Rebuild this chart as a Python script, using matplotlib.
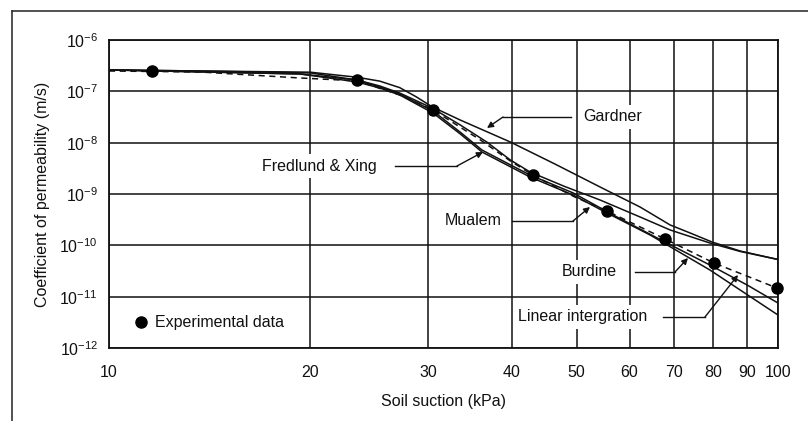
import matplotlib
matplotlib.use("Agg")
import matplotlib.pyplot as plt
from matplotlib.lines import Line2D
from matplotlib.ticker import FixedLocator, LogFormatterSciNotation, NullLocator

plt.rcParams['font.family'] = ['Liberation Sans', 'DejaVu Sans']
plt.rcParams['mathtext.default'] = 'regular'

# ---------------- data ----------------
x_ticks = [10, 20, 30, 40, 50, 60, 70, 80, 90, 100]
y_ticks = [1e-12, 1e-11, 1e-10, 1e-9, 1e-8, 1e-7, 1e-6]

exp_suction = [11.6, 23.5, 30.5, 43.0, 55.5, 67.8, 80.2, 99.5]
exp_k = [2.5e-7, 1.66e-7, 4.3e-8, 2.34e-9, 4.67e-10, 1.33e-10, 4.53e-11, 1.48e-11]

gardner_s = [10, 13.7, 20.0, 23.5, 25.4, 27.2, 28.8, 30.4, 33.5, 39.8, 46.4, 54.2, 62.2, 69.0, 73.9, 79.7, 87.8, 100]
gardner_k = [2.61e-7, 2.49e-7, 2.36e-7, 1.88e-7, 1.58e-7, 1.18e-7, 7.8e-8, 5.0e-8, 2.76e-8, 1.03e-8,
             3.84e-9, 1.37e-9, 5.58e-10, 2.49e-10, 1.74e-10, 1.16e-10, 7.75e-11, 5.3e-11]

fx_s = [10, 13.7, 20.0, 23.5, 25.4, 27.2, 30.4, 33.5, 36.7, 39.8, 42.6, 48.0, 54.2, 62.2, 69.0, 79.1, 87.8, 100]
fx_k = [2.61e-7, 2.49e-7, 2.28e-7, 1.66e-7, 1.27e-7, 9.27e-8, 4.73e-8, 2.21e-8, 1.03e-8,
        4.6e-9, 2.68e-9, 1.4e-9, 7.64e-10, 3.57e-10, 1.99e-10, 1.11e-10, 7.6e-11, 5.3e-11]

mualem_s = [10, 13.7, 19.3, 23.5, 27.2, 30.5, 33.5, 35.9, 39.8, 43.0, 49.7, 55.5, 67.8, 80.2, 100]
mualem_k = [2.49e-7, 2.38e-7, 1.82e-7, 1.6e-7, 8.49e-8, 4.33e-8, 2.0e-8, 1.13e-8, 4.4e-9, 2.34e-9,
            8.74e-10, 4.67e-10, 1.33e-10, 4.53e-11, 1.45e-11]

linear_s = [10, 19.3, 23.5, 25.4, 27.2, 30.5, 33.5, 36.1, 39.8, 42.6, 49.4, 56.7, 68.2, 79.1, 89.9, 100]
linear_k = [2.61e-7, 2.18e-7, 1.66e-7, 1.21e-7, 8.87e-8, 4.14e-8, 1.6e-8, 7.19e-9, 3.7e-9, 2.34e-9,
            1.05e-9, 3.9e-10, 1.11e-10, 4.14e-11, 1.69e-11, 7.52e-12]

burdine_s = [10, 19.3, 23.5, 25.4, 27.2, 30.5, 33.5, 36.1, 39.8, 42.6, 49.4, 55.5, 64.4, 79.1, 100]
burdine_k = [2.61e-7, 2.18e-7, 1.52e-7, 1.16e-7, 8.49e-8, 3.78e-8, 1.48e-8, 6.58e-9, 3.4e-9, 2.14e-9,
             9.55e-10, 4.27e-10, 1.59e-10, 3.31e-11, 4.39e-12]

# ---------------- figure ----------------
W, H = 808, 421
fig = plt.figure(figsize=(W / 100, H / 100), dpi=100)
ax = fig.add_axes([109 / W, (H - 348) / H, 669 / W, 308 / H])

# outer frame (top and left edge of the scanned box)
fig.add_artist(Line2D([12 / W, 1.0], [1 - 11 / H, 1 - 11 / H], color='#222222', lw=1.1,
                      transform=fig.transFigure))
fig.add_artist(Line2D([12 / W, 12 / W], [0.0, 1 - 11 / H], color='#222222', lw=1.1,
                      transform=fig.transFigure))

ax.set_xscale('log')
ax.set_yscale('log')
ax.set_xlim(10, 100)
ax.set_ylim(1e-12, 1e-6)

ax.xaxis.set_major_locator(FixedLocator(x_ticks))
ax.xaxis.set_minor_locator(NullLocator())
ax.set_xticklabels([str(v) for v in x_ticks])
ax.yaxis.set_major_locator(FixedLocator(y_ticks))
ax.yaxis.set_minor_locator(NullLocator())
ax.yaxis.set_major_formatter(LogFormatterSciNotation())

ax.tick_params(axis='both', which='both', length=0, labelsize=11.5, colors='#111111')
ax.tick_params(axis='x', pad=12)
ax.tick_params(axis='y', pad=8)

ax.grid(True, which='major', color='#111111', lw=1.1)
ax.set_axisbelow(True)
for sp in ax.spines.values():
    sp.set_linewidth(1.3)
    sp.set_color('#111111')

lc = '#111111'
lw = 1.1
ax.plot(gardner_s, gardner_k, color=lc, lw=lw, zorder=3)
ax.plot(fx_s, fx_k, color=lc, lw=lw, zorder=3)
ax.plot(linear_s, linear_k, color=lc, lw=lw, zorder=3)
ax.plot(burdine_s, burdine_k, color=lc, lw=lw, zorder=3)
ax.plot(mualem_s, mualem_k, color=lc, lw=lw, ls=(0, (4, 3)), zorder=3)
ax.plot(exp_suction, exp_k, 'o', color='black', ms=8, zorder=4, clip_on=False)

ax.set_xlabel('Soil suction (kPa)', fontsize=11.5, labelpad=10, color='#111111')
ax.set_ylabel('Coefficient of permeability (m/s)', fontsize=11.5, labelpad=7, color='#111111')

# ---------------- labels with leader lines (pixel positions converted) ----------------
def px(xp, yp):
    """pixel position of the picture -> data coordinates"""
    xd = 10 ** (1 + (xp - 109) / 669)
    yd = 10 ** (-6 - (yp - 40) / (308 / 6))
    return xd, yd

box = dict(facecolor='white', edgecolor='none', pad=3)
labels = [
    # text, text left x, text y, leader start x, elbow x, tip x, tip y
    ('Gardner', 583, 117, 571, 503, 487, 128),
    ('Fredlund & Xing', 262, 166, 395, 457, 483, 152),
    ('Mualem', 445, 221, 512, 573, 590, 207),
    ('Burdine', 562, 272, 635, 675, 688, 258),
    ('Linear intergration', 518, 317, 663, 705, 738, 275),
]
for txt, tx, ty, lx, ex, tipx, tipy in labels:
    ax.text(*px(tx, ty), txt, fontsize=11.5, ha='left', va='center', bbox=box,
            zorder=2.5, color='#111111')
    x0, y0 = px(lx, ty)
    x1, y1 = px(ex, ty)
    ax.plot([x0, x1], [y0, y1], color=lc, lw=1.0, zorder=3)
    ax.annotate('', xy=px(tipx, tipy), xytext=(x1, y1),
                arrowprops=dict(arrowstyle='-|>', lw=1.0, color=lc, shrinkA=0, shrinkB=0,
                                mutation_scale=9), zorder=3)

# legend-like entry
ax.plot(*px(141, 322), 'o', color='black', ms=8, zorder=4)
ax.text(*px(155, 322), 'Experimental data', fontsize=11.5, ha='left', va='center',
        color='#111111', zorder=4)

fig.savefig('out.png', dpi=100)
